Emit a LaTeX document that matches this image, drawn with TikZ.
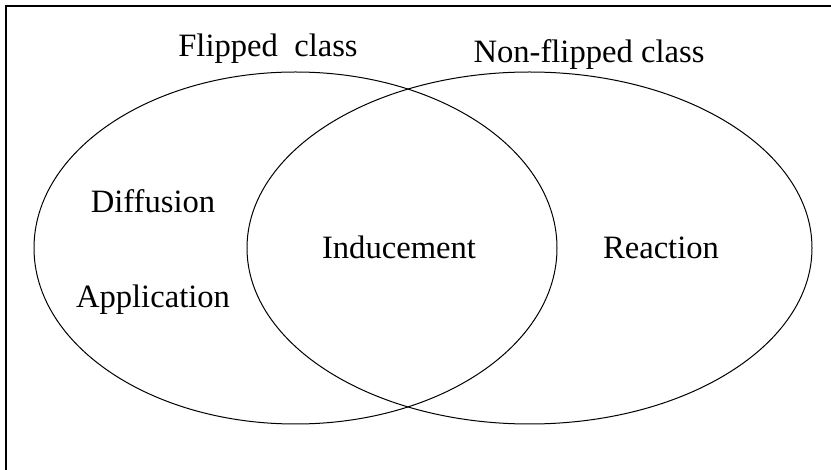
\documentclass[tikz,border=0pt]{standalone}
\usepackage{fontspec}
\setmainfont{Liberation Serif}
\usepackage{tikz}
\usetikzlibrary{positioning}

\begin{document}
\begin{tikzpicture}[x=0.5pt, y=-0.5pt, font=\fontsize{16.3}{19}\selectfont,
  setlabel/.style={anchor=base, inner sep=0pt},
  itemlabel/.style={anchor=base, inner sep=0pt},
  circ/.style={draw, line width=0.5pt}]
  \useasboundingbox (0,0) rectangle (831,470);
  % frame (cut at right and bottom)
  \draw[line width=0.8pt] (6,470) -- (6,6) -- (831,6);
  % the two sets
  \draw[circ] (295.5,248) ellipse [x radius=261.5, y radius=176];
  \draw[circ] (529.5,248) ellipse [x radius=282.5, y radius=176];
  \node[setlabel] (fl) at (268,57) {Flipped\ \ class};
  \node[setlabel] (nf) at (589,63) {Non-flipped class};
  \node[itemlabel] (di) at (153,213) {Diffusion};
  \node[itemlabel] (ap) at (153,308) {Application};
  \node[itemlabel] (in) at (399,259) {Inducement};
  \node[itemlabel] (re) at (661,259) {Reaction};
\end{tikzpicture}
\end{document}
